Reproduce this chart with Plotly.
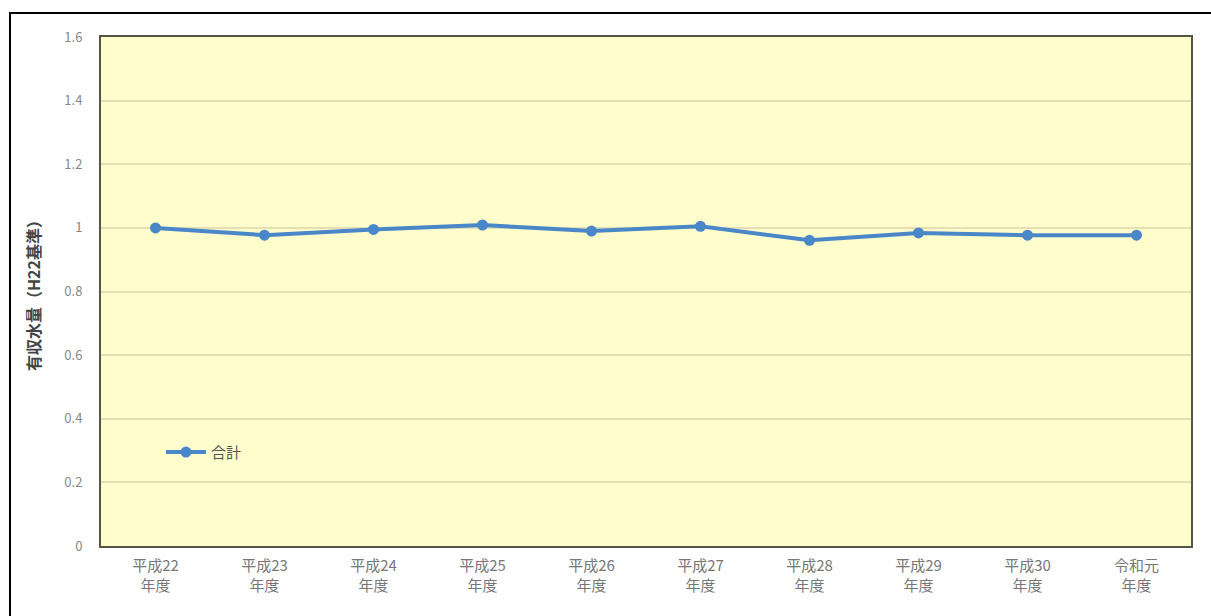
import plotly.graph_objects as go

# Fiscal years (two-line labels) and revenue water volume index (FY H22 = 1)
years = ["平成22<br>年度", "平成23<br>年度", "平成24<br>年度", "平成25<br>年度", "平成26<br>年度",
         "平成27<br>年度", "平成28<br>年度", "平成29<br>年度", "平成30<br>年度", "令和元<br>年度"]
total = [1.000, 0.977, 0.995, 1.009, 0.990, 1.005, 0.961, 0.984, 0.977, 0.977]
series_name = "合計"
y_ticks = [0, 0.2, 0.4, 0.6, 0.8, 1, 1.2, 1.4, 1.6]
y_tick_text = ["0", "0.2", "0.4", "0.6", "0.8", "1", "1.2", "1.4", "1.6"]

font_family = "Noto Sans CJK JP, Noto Sans, sans-serif"

fig = go.Figure()
fig.add_trace(go.Scatter(
    x=list(range(len(years))), y=total, name=series_name, mode="lines+markers",
    line=dict(color="#4A87C9", width=4),
    marker=dict(color="#4A87C9", size=11),
))

fig.update_layout(
    width=1211, height=616,
    margin=dict(l=101, r=20, t=37, b=70),
    paper_bgcolor="white",
    plot_bgcolor="#FFFDCC",
    font=dict(family=font_family, color="#777777", size=13),
    showlegend=True,
    legend=dict(x=0.055, y=0.184, xanchor="left", yanchor="middle",
                bgcolor="rgba(0,0,0,0)", font=dict(size=15, color="#555555"),
                itemwidth=40),
    xaxis=dict(
        range=[-0.5, len(years) - 0.5],
        tickmode="array", tickvals=list(range(len(years))), ticktext=years,
        showgrid=False, zeroline=False, ticks="",
        tickfont=dict(size=15, color="#777777"),
        ticklabelstandoff=5,
        showline=True, linecolor="#55554A", linewidth=2, mirror=True,
    ),
    yaxis=dict(
        range=[0, 1.6],
        tickmode="array", tickvals=y_ticks, ticktext=y_tick_text,
        showgrid=True, gridcolor="#E6DFB4", gridwidth=1.5, zeroline=False, ticks="",
        tickfont=dict(size=13, color="#888888"),
        ticklabelstandoff=14,
        showline=True, linecolor="#55554A", linewidth=2, mirror=True,
        title=dict(text="<b>有収水量（H22基準）</b>", standoff=20,
                   font=dict(size=16, color="#444444")),
    ),
    shapes=[dict(type="rect", xref="paper", yref="paper",
                 x0=-0.0835, x1=1.3, y0=-0.5, y1=1.047,
                 line=dict(color="black", width=2), fillcolor="rgba(0,0,0,0)",
                 layer="above")],
)

fig.write_html("out.html")
